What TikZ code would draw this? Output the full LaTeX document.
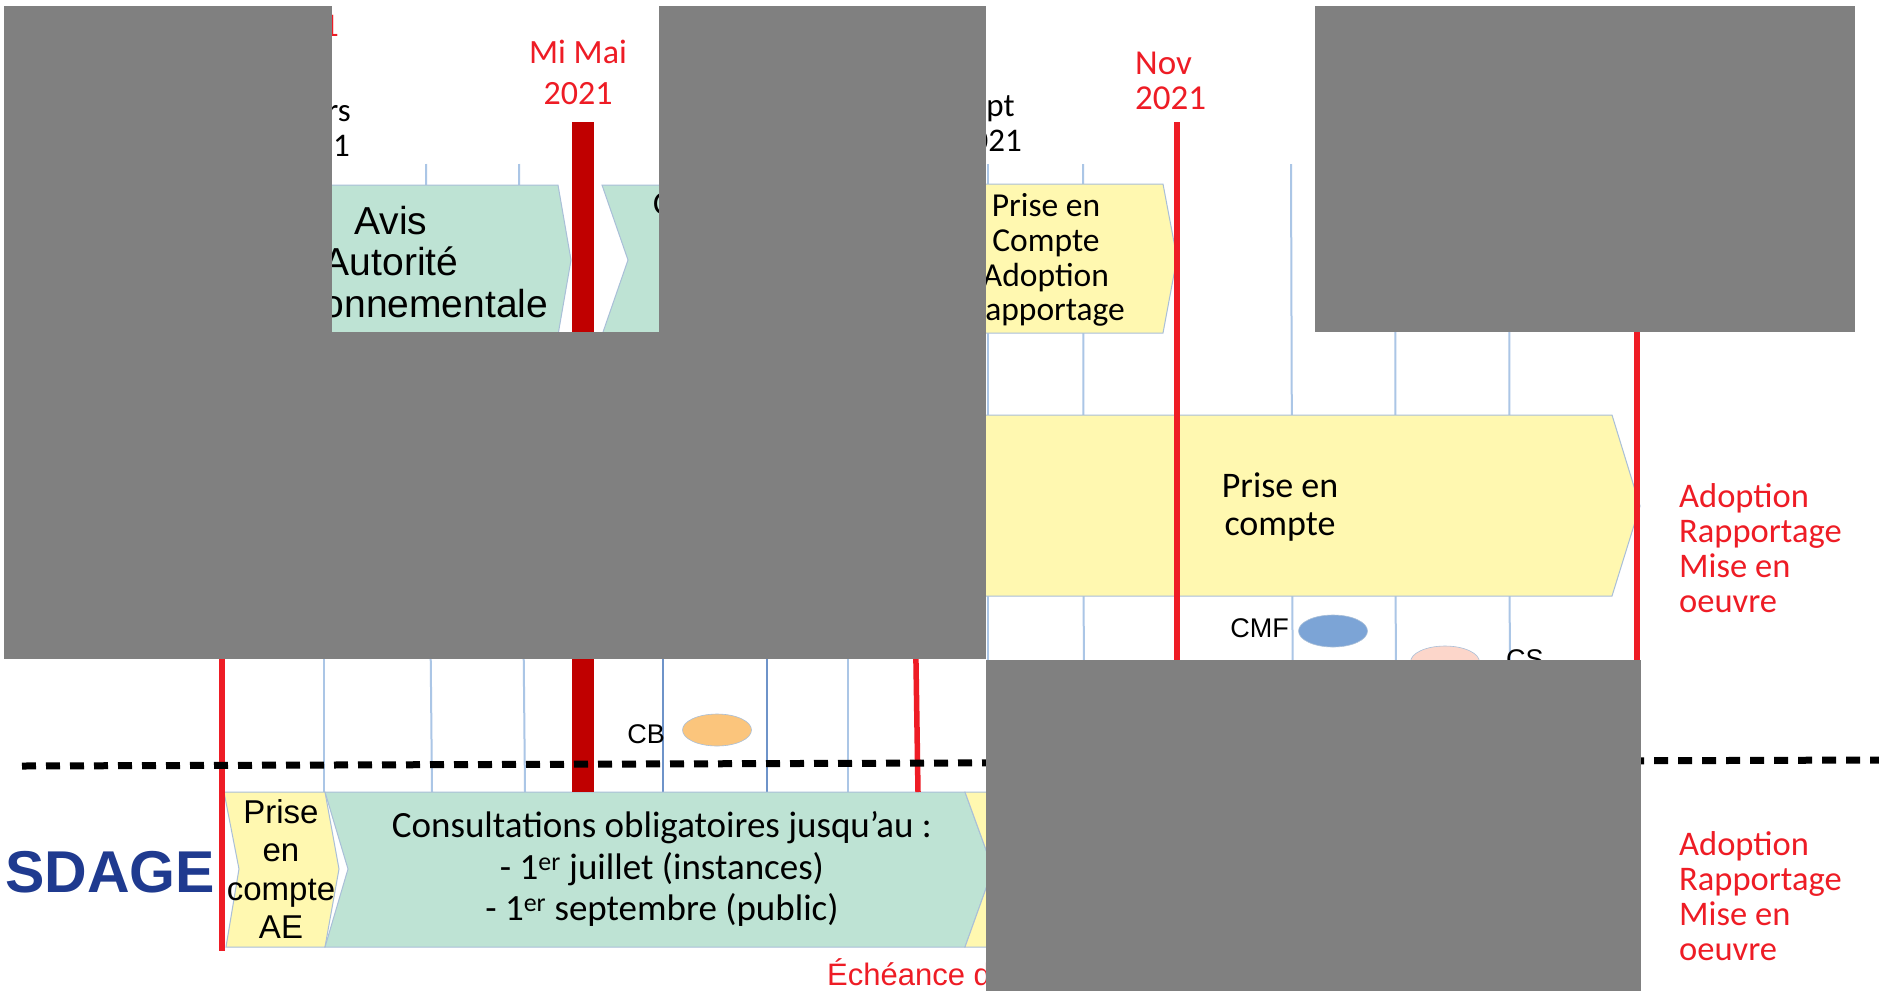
\documentclass[tikz,border=0pt]{standalone}
\usepackage{fontspec}
\setmainfont{Carlito}
\newfontfamily\arialf{Liberation Sans}
\usetikzlibrary{shapes.geometric}
\definecolor{vertclair}{HTML}{BEE3D4}
\definecolor{jauneclair}{HTML}{FFF8B0}
\definecolor{contour}{HTML}{A9BFD8}
\definecolor{grille}{HTML}{ABC6E6}
\definecolor{grillefonce}{HTML}{6E93C9}
\definecolor{rouge}{HTML}{EE1C25}
\definecolor{rougefonce}{HTML}{C00000}
\definecolor{bleusdage}{HTML}{1F3A8F}
\definecolor{masque}{HTML}{808080}
\definecolor{orangecb}{HTML}{FBC57C}
\definecolor{bleucmf}{HTML}{7CA4D6}
\definecolor{rosecs}{HTML}{FCD6CA}
\begin{document}
\begin{tikzpicture}[x=1pt, y=-1pt,
    etapev/.style={fill=vertclair, draw=contour, line width=1pt},
    etapej/.style={fill=jauneclair, draw=contour, line width=1pt},
    grad/.style={draw=grille, line width=2pt},
    gradf/.style={draw=grillefonce, line width=1.5pt},
    jalon/.style={draw=rouge, line width=5.5pt},
    instance/.style={ellipse, draw=contour, line width=0.6pt, minimum width=69pt, minimum height=32pt, inner sep=0pt},
    petit/.style={font=\arialf\fontsize{27}{30}\selectfont, inner sep=0pt},
    date/.style={align=center, inner sep=0pt},
    rougel/.style={text=rouge, align=left, inner sep=0pt, font=\fontsize{34.5}{35}\selectfont}]
    \fill[white] (0,0) rectangle (1879,994);
    \useasboundingbox (0,0) rectangle (1879,994);

    \foreach \xa/\xb in {324/324, 426/432, 519/525, 848/848, 988/988, 1083/1084, 1291/1293, 1395/1396, 1509/1510}
        \draw[grad] (\xa, 164) -- (\xb, 792);
    \foreach \x in {663, 767}
        \draw[gradf] (\x, 164) -- (\x, 792);

    \filldraw[etapev] (240,185) -- (558,185) -- (571,260) -- (558,335) -- (240,335) -- cycle;
    \filldraw[etapev] (602,185) -- (900,185) -- (900,335) -- (602,335) -- (628,260) -- cycle;
    \filldraw[etapej] (960,184) -- (1163,184) -- (1177,258) -- (1163,333) -- (960,333) -- cycle;
    \filldraw[etapej] (960,415) -- (1612,415) -- (1640,506) -- (1612,596) -- (960,596) -- cycle;

    \filldraw[etapej] (224,792) -- (325,792) -- (339,869) -- (325,947) -- (226,947) -- (239,869) -- cycle;
    \filldraw[etapev] (325,792) -- (965,792) -- (993,869) -- (965,947) -- (325,947) -- (348,869) -- cycle;
    \filldraw[etapej] (965,792) -- (1100,792) -- (1100,947) -- (965,947) -- (993,869) -- cycle;

    \fill[rougefonce] (572,122) rectangle (594,792);
    \draw[jalon] (222,600) -- (222,951);
    \draw[jalon] (915,600) -- (918,792);
    \draw[jalon] (1177,122) -- (1177,660);
    \draw[jalon] (1637,300) -- (1637,660);

    \node[instance, fill=orangecb] (cb) at (717,730) {};
    \node[instance, fill=bleucmf] (cmf) at (1333,631) {};
    \node[instance, fill=rosecs] (cs) at (1445,662) {};
    \node[petit, anchor=base east] (lcb) at (665,743) {CB};
    \node[petit, anchor=base east] (lcmf) at (1289,637) {CMF};
    \node[petit, anchor=base west] (lcs) at (1506,668) {CS};

    \node[date, text=rouge, anchor=base east, font=\fontsize{33}{35}\selectfont] (dateun) at (339,36) {2021};
    \node[date, align=left, anchor=east, font=\fontsize{33}{35}\selectfont] (mars) at (351,129) {Mars\\2021};
    \node[date, text=rouge, font=\fontsize{34}{41}\selectfont] (mimai) at (578,72) {Mi Mai\\2021};
    \node[date, align=left, anchor=east, font=\fontsize{33}{35}\selectfont] (sept) at (1022,123) {Sept\\2021};
    \node[date, text=rouge, align=left, anchor=west, font=\fontsize{35}{35}\selectfont] (nov) at (1135,81) {Nov\\2021};

    \node[align=center, font=\arialf\fontsize{39}{41.5}\selectfont] (avis) at (391,262) {Avis\\Autorité\\Environnementale};
    \node[anchor=base west, inner sep=0pt, font=\fontsize{33}{35}\selectfont] (consulta) at (653,214) {Consultation};
    \node[align=center, font=\fontsize{33.5}{34.7}\selectfont] (pecadopt) at (1046,260) {Prise en\\Compte\\Adoption\\Rapportage};
    \node[align=center, font=\fontsize{36}{37.5}\selectfont] (pecgrand) at (1280,507) {Prise en\\compte};
    \node[rougel, anchor=west] (adopt1) at (1679,548) {Adoption\\Rapportage\\Mise en\\oeuvre};

    \node[anchor=base west, inner sep=0pt, text=bleusdage, font=\arialf\bfseries\fontsize{59}{60}\selectfont] (sdage) at (5,892) {SDAGE};
    \node[align=center, font=\arialf\fontsize{33}{38.3}\selectfont] (pecae) at (281,869) {Prise\\en\\compte\\AE};
    \node[align=center, font=\fontsize{37}{41.5}\selectfont] (consult) at (662,869) {Consultations obligatoires jusqu’au :\\- 1\textsuperscript{er} juillet (instances)\\- 1\textsuperscript{er} septembre (public)};
    \node[rougel, anchor=west] (adopt2) at (1679,896) {Adoption\\Rapportage\\Mise en\\oeuvre};
    \node[anchor=base west, inner sep=0pt, text=rouge, font=\arialf\fontsize{31}{36}\selectfont] (echeance) at (827,985) {Échéance de};

    \draw[line width=7pt, dash pattern=on 14pt off 10pt] (22,766) -- (1879,760);

    \fill[masque] (4,6) rectangle (332,659);
    \fill[masque] (332,332) rectangle (986,659);
    \fill[masque] (659,6) rectangle (986,332);
    \fill[masque] (1315,6) rectangle (1855,332);
    \fill[masque] (986,660) rectangle (1641,991);
\end{tikzpicture}
\end{document}
